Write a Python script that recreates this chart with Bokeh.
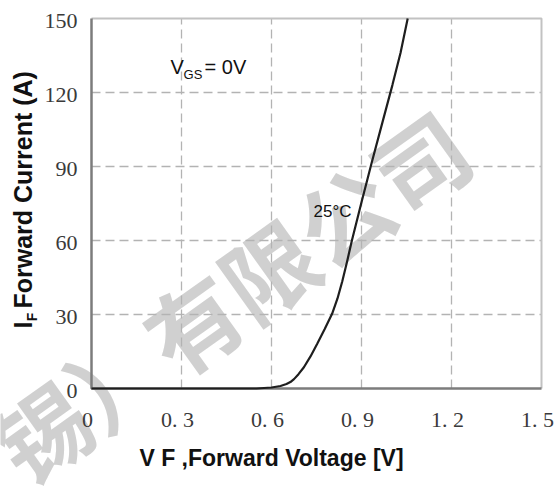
from bokeh.plotting import figure
from bokeh.models import Range1d, Label
from bokeh.core.properties import value
from bokeh.embed import file_html
from bokeh.resources import INLINE
import math

# ---- data ----
vf = [0.0, 0.3, 0.5, 0.55, 0.6, 0.63, 0.65, 0.663, 0.675, 0.69, 0.708, 0.73, 0.752,
      0.777, 0.802, 0.82, 0.836, 0.852, 0.868, 0.9, 0.935, 0.97, 1.003, 1.03, 1.054]
i_f = [0.0, 0.0, 0.0, 0.0, 0.4, 1.0, 1.8, 2.6, 3.8, 5.8, 8.6, 13.0, 18.0,
       24.0, 30.3, 36.5, 43.5, 51.5, 60.0, 75.5, 92.0, 108.0, 123.0, 136.0, 150.0]
x_ticks = [0, 0.3, 0.6, 0.9, 1.2, 1.5]
x_tick_labels = ["0", "0. 3", "0. 6", "0. 9", "1. 2", "1. 5"]
y_ticks = [0, 30, 60, 90, 120, 150]
y_tick_labels = ["0", "30", "60", "90", "120", "150"]
x_title = "V F ,Forward Voltage [V]"
y_title_main = "I"
y_title_sub = "F"
y_title_rest = "Forward Current (A)"
curve_label = "25\u00b0C"
watermark = "\u9521\uff09\u6709\u9650\u516c\u53f8"

# frame covers whole canvas: 300 px per volt, x=0 at px 91; 2.4667 px per A, y=0 at px 388
X0, Y0, SX, SY = 91.0, 388.0, 300.0, 370.0 / 150.0
W, H = 554, 487
p = figure(width=W, height=H, title=None,
           x_range=Range1d(-X0 / SX, (W - X0) / SX),
           y_range=Range1d(-(H - Y0) / SY, Y0 / SY),
           x_axis_type=None, y_axis_type=None,
           output_backend="svg", toolbar_location=None,
           min_border=0)
p.outline_line_color = None
p.background_fill_color = "white"
p.border_fill_color = "white"

xmin, xmax = x_ticks[0], x_ticks[-1]
ymin, ymax = y_ticks[0], y_ticks[-1]

# watermark (behind chart marks)
p.text(x=[0.46], y=[38.1], text=[watermark], text_font=value("Noto Sans CJK SC"),
       text_font_size=value("93px"), text_font_style="bold", text_color="#c8c8c8",
       text_alpha=0.85, angle=35.5, angle_units="deg", text_align="center",
       text_baseline="middle")

# dashed grid from tick arrays
p.segment(x0=x_ticks[1:-1], y0=ymin, x1=x_ticks[1:-1], y1=ymax,
          line_color="#b3b3b3", line_width=1.3, line_dash="9 5")
p.segment(x0=xmin, y0=y_ticks[1:-1], x1=xmax, y1=y_ticks[1:-1],
          line_color="#b3b3b3", line_width=1.3, line_dash="9 5")

# plot-area border: light top/right, dark left/bottom
p.line([xmin, xmax, xmax], [ymax, ymax, ymin], line_color="#c2c2c2", line_width=2)
p.line([xmin, xmin, xmax], [ymax, ymin, ymin], line_color="#7c7c7c", line_width=2.5)

# curve
p.line(vf, i_f, line_color="#1e1e1e", line_width=2.2)

# tick labels
p.text(x=x_ticks, y=-12.6, text=x_tick_labels, text_font=value("Liberation Serif"),
       text_font_size=value("22px"), text_color="#3a3a3a", text_align="center",
       text_baseline="middle", x_offset=-4)
p.text(x=-0.047, y=y_ticks, text=y_tick_labels, text_font=value("Liberation Serif"),
       text_font_size=value("22px"), text_color="#3a3a3a", text_align="right",
       text_baseline="middle", y_offset=2)

# annotations
p.add_layout(Label(x=0.263, y=125.7, text="V", text_font="Liberation Sans",
                   text_font_size="20px", text_color="#111111"))
p.add_layout(Label(x=0.307, y=124.3, text="GS", text_font="Liberation Sans",
                   text_font_size="13px", text_color="#111111"))
p.add_layout(Label(x=0.377, y=125.7, text="= 0V", text_font="Liberation Sans",
                   text_font_size="20px", text_color="#111111"))
p.add_layout(Label(x=0.74, y=68.1, text=curve_label, text_font="Liberation Sans",
                   text_font_size="17px", text_color="#111111"))

# axis titles
p.add_layout(Label(x=0.6, y=-33.6, text=x_title, text_font="Liberation Sans",
                   text_font_size="23px", text_font_style="bold", text_color="#111111",
                   text_align="center"))
ang = math.pi / 2
p.add_layout(Label(x=-0.183, y=24.3, text=y_title_main, text_font="Liberation Sans",
                   text_font_size="25px", text_font_style="bold", text_color="#111111",
                   angle=ang))
p.add_layout(Label(x=-0.172, y=27.3, text=y_title_sub, text_font="Liberation Sans",
                   text_font_size="14px", text_font_style="bold", text_color="#111111",
                   angle=ang))
p.add_layout(Label(x=-0.183, y=32.4, text=y_title_rest, text_font="Liberation Sans",
                   text_font_size="25px", text_font_style="bold", text_color="#111111",
                   angle=ang))

open("out.html", "w").write(file_html(p, INLINE))
